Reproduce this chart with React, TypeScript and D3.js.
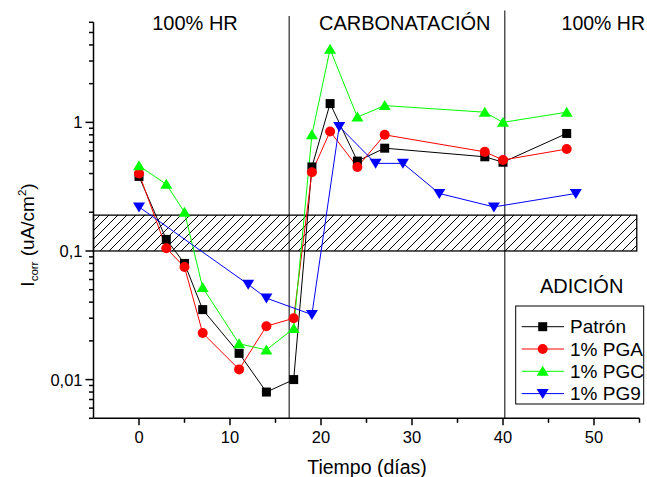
import React from "react";
import * as d3 from "d3";

const patronDays = [0, 3, 5, 7, 11, 14, 17, 19, 21, 24, 27, 38, 40, 47];
const patronVals = [0.38, 0.123, 0.08, 0.035, 0.016, 0.008, 0.01, 0.45, 1.4, 0.5, 0.63, 0.54, 0.49, 0.82];

const pgaDays = [0, 3, 5, 7, 11, 14, 17, 19, 21, 24, 27, 38, 40, 47];
const pgaVals = [0.4, 0.105, 0.075, 0.023, 0.012, 0.026, 0.03, 0.41, 0.85, 0.45, 0.8, 0.59, 0.51, 0.62];

const pgcDays = [0, 3, 5, 7, 11, 14, 17, 19, 21, 24, 27, 38, 40, 47];
const pgcVals = [0.46, 0.33, 0.2, 0.052, 0.019, 0.017, 0.025, 0.8, 3.7, 1.1, 1.35, 1.2, 1.0, 1.2];

const pg9Days = [0, 12, 14, 19, 22, 26, 29, 33, 39, 48];
const pg9Vals = [0.22, 0.055, 0.043, 0.032, 0.93, 0.48, 0.48, 0.28, 0.22, 0.28];

const seriesNames = ["Patrón", "1% PGA", "1% PGC", "1% PG9"];
const seriesColors = ["#000000", "#ff0000", "#00ff00", "#0000ff"];
const seriesMarkers = ["square", "circle", "triUp", "triDown"];

const xMajorTicks = [0, 10, 20, 30, 40, 50];
const xMinorTicks = [5, 15, 25, 35, 45, 55];
const yMajorTicks = [0.01, 0.1, 1];
const yTickLabels = ["0,01", "0,1", "1"];
const phaseLines = [16.5, 40.2];
const phaseLabels = ["100% HR", "CARBONATACIÓN", "100% HR"];
const bandLow = 0.1;
const bandHigh = 0.19;
const bandEndDay = 54.7;

const FONT = "Arial, 'Liberation Sans', sans-serif";

function Marker({ type, x, y, color }: { type: string; x: number; y: number; color: string }) {
  if (type === "square") return <rect x={x - 4.5} y={y - 4.5} width={9} height={9} fill={color} />;
  if (type === "circle") return <circle cx={x} cy={y} r={5} fill={color} />;
  if (type === "triUp")
    return <path d={`M${x},${y - 5.5} L${x + 6},${y + 4.5} L${x - 6},${y + 4.5} Z`} fill={color} />;
  return <path d={`M${x},${y + 5.5} L${x + 6},${y - 4.5} L${x - 6},${y - 4.5} Z`} fill={color} />;
}

export default function App() {
  const W = 647, H = 477;
  const x = d3.scaleLinear().domain([-5, 55]).range([93.5, 639.5]);
  const y = d3.scaleLog().domain([0.005, 6]).range([418.3, 22.3]);
  const series = [
    { days: patronDays, vals: patronVals },
    { days: pgaDays, vals: pgaVals },
    { days: pgcDays, vals: pgcVals },
    { days: pg9Days, vals: pg9Vals },
  ];
  const line = d3
    .line<[number, number]>()
    .x((d) => x(d[0]))
    .y((d) => y(d[1]));

  const yMinor: number[] = [];
  [0.001, 0.01, 0.1, 1].forEach((dec) => {
    for (let k = 2; k <= 9; k++) {
      const v = dec * k;
      if (v >= 0.005 && v <= 6.0001) yMinor.push(v);
    }
  });

  const x0 = x(-5);
  const yBase = y(0.005);
  const bandTop = y(bandHigh);
  const bandBot = y(bandLow);

  return (
    <svg width={W} height={H} style={{ display: "block", position: "absolute", left: 0, top: 0 }} fontFamily={FONT}>
      <defs>
        <pattern id="hatch" patternUnits="userSpaceOnUse" width={9} height={9}>
          <path d="M-1,1 l2,-2 M0,9 l9,-9 M8,10 l2,-2" stroke="#000" strokeWidth={1} />
        </pattern>
      </defs>
      <rect x={0} y={0} width={W} height={H} fill="#fff" />
      {/* hatched band */}
      <rect
        x={x0}
        y={bandTop}
        width={x(bandEndDay) - x0}
        height={bandBot - bandTop}
        fill="url(#hatch)"
        stroke="#000"
        strokeWidth={1.3}
      />
      {/* phase lines */}
      <line x1={x(phaseLines[0])} x2={x(phaseLines[0])} y1={16} y2={yBase} stroke="#000" strokeWidth={1} />
      <line x1={x(phaseLines[1])} x2={x(phaseLines[1])} y1={10.5} y2={yBase} stroke="#000" strokeWidth={1} />
      {/* phase labels */}
      <text x={195} y={29.5} fontSize={20} textAnchor="middle">{phaseLabels[0]}</text>
      <text x={404.7} y={29.5} fontSize={20} textAnchor="middle">{phaseLabels[1]}</text>
      <text x={645} y={29.5} fontSize={19.5} textAnchor="end">{phaseLabels[2]}</text>

      {/* series */}
      {series.map((s, i) => (
        <path
          key={"l" + i}
          d={line(s.days.map((d, j) => [d, s.vals[j]] as [number, number])) || ""}
          fill="none"
          stroke={seriesColors[i]}
          strokeWidth={1}
        />
      ))}
      {series.map((s, i) =>
        s.days.map((d, j) => (
          <Marker key={"m" + i + "-" + j} type={seriesMarkers[i]} x={x(d)} y={y(s.vals[j])} color={seriesColors[i]} />
        ))
      )}

      {/* axes */}
      <line x1={x0} x2={x0} y1={y(6)} y2={yBase} stroke="#000" strokeWidth={1.5} />
      <line x1={x0} x2={x(55)} y1={yBase} y2={yBase} stroke="#000" strokeWidth={1.5} />
      {yMajorTicks.map((v, i) => (
        <g key={"ym" + i}>
          <line x1={x0 - 8} x2={x0} y1={y(v)} y2={y(v)} stroke="#000" strokeWidth={1.5} />
          <text x={x0 - 11} y={y(v)} fontSize={16.5} textAnchor="end" dominantBaseline="central">
            {yTickLabels[i]}
          </text>
        </g>
      ))}
      {yMinor.map((v, i) => (
        <line key={"yn" + i} x1={x0 - 4.5} x2={x0} y1={y(v)} y2={y(v)} stroke="#000" strokeWidth={1.5} />
      ))}
      {xMajorTicks.map((v, i) => (
        <g key={"xm" + i}>
          <line x1={x(v)} x2={x(v)} y1={yBase} y2={yBase + 7} stroke="#000" strokeWidth={1.5} />
          <text x={x(v)} y={yBase + 25} fontSize={16.5} textAnchor="middle">
            {v}
          </text>
        </g>
      ))}
      {xMinorTicks.map((v, i) => (
        <line key={"xn" + i} x1={x(v)} x2={x(v)} y1={yBase} y2={yBase + 4.5} stroke="#000" strokeWidth={1.5} />
      ))}
      <text x={367} y={474} fontSize={19.5} textAnchor="middle">Tiempo (días)</text>
      <text transform={`translate(33.5,235) rotate(-90)`} fontSize={19} textAnchor="middle">
        <tspan>I</tspan>
        <tspan fontSize={11.5} dy={4}>corr</tspan>
        <tspan dy={-4}> (uA/cm</tspan>
        <tspan fontSize={11.5} dy={-8}>2</tspan>
        <tspan dy={8}>)</tspan>
      </text>

      {/* legend */}
      <text x={540} y={292.5} fontSize={20}>ADICIÓN</text>
      <rect x={515.7} y={306} width={128} height={98} fill="#fff" stroke="#000" strokeWidth={1} />
      {seriesNames.map((n, i) => {
        const ry = 326.7 + i * 22.3;
        return (
          <g key={"lg" + i}>
            <line x1={521.7} x2={564} y1={ry} y2={ry} stroke={seriesColors[i]} strokeWidth={1} />
            <Marker type={seriesMarkers[i]} x={542.7} y={ry} color={seriesColors[i]} />
            <text x={570} y={ry} fontSize={19} dominantBaseline="central">
              {n}
            </text>
          </g>
        );
      })}
    </svg>
  );
}
